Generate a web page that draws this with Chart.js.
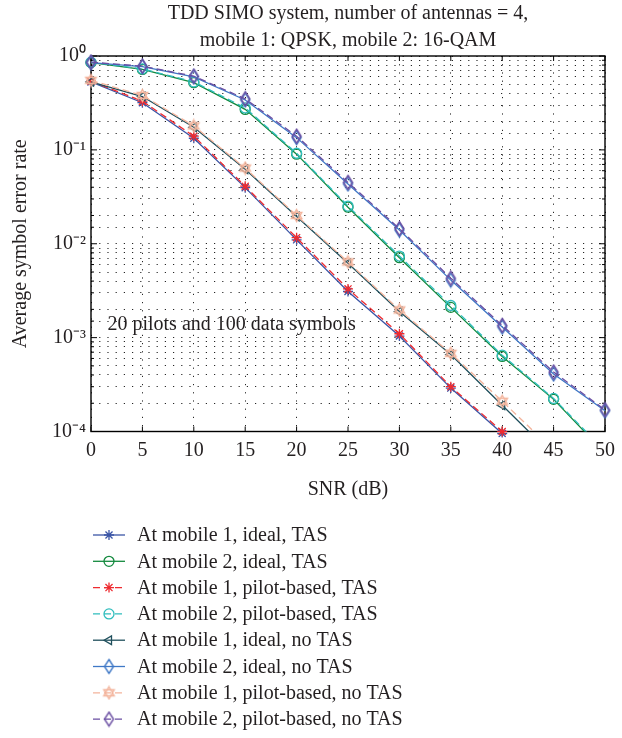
<!DOCTYPE html>
<html lang="en">
<head>
  <meta charset="UTF-8">
  <title>TDD SIMO symbol error rate</title>
  <script src="https://cdn.jsdelivr.net/npm/chart.js@4"></script>
  <style>
    html, body { margin: 0; padding: 0; background: #fff; }
    #wrap { width: 622px; height: 738px; }
  </style>
</head>
<body>
  <div id="wrap"><canvas id="ser-chart"></canvas></div>

  <script>
    // SNR in dB
    const snr = [0, 5, 10, 15, 20, 25, 30, 35, 40, 45, 50];

    // average symbol error rate
    const m1IdealTas   = [0.53, 0.318, 0.133, 0.0396, 0.0110, 0.0031, 0.00104, 0.00029, 0.000095];
    const m2IdealTas   = [0.85, 0.72, 0.52, 0.27, 0.090, 0.0245, 0.0071, 0.0021, 0.00063, 0.00022, 0.000059];
    const m1PilotTas   = [0.54, 0.33, 0.14, 0.041, 0.0116, 0.0033, 0.00110, 0.00030, 0.00010];
    const m2PilotTas   = [0.86, 0.73, 0.53, 0.28, 0.092, 0.0252, 0.0074, 0.0022, 0.00065, 0.000225, 0.000062];
    const m1IdealNoTas = [0.53, 0.37, 0.174, 0.062, 0.0195, 0.0062, 0.0019, 0.00066, 0.00019, 0.000055];
    const m2IdealNoTas = [0.85, 0.77, 0.60, 0.34, 0.135, 0.0434, 0.0140, 0.0041, 0.00130, 0.00041, 0.000166];
    const m1PilotNoTas = [0.55, 0.38, 0.18, 0.064, 0.0200, 0.0064, 0.00197, 0.00068, 0.00021, 0.000063];
    const m2PilotNoTas = [0.86, 0.78, 0.61, 0.35, 0.140, 0.0450, 0.0145, 0.0043, 0.00135, 0.00043, 0.00017];

    const seriesNames = [
      'At mobile 1, ideal, TAS',
      'At mobile 2, ideal, TAS',
      'At mobile 1, pilot-based, TAS',
      'At mobile 2, pilot-based, TAS',
      'At mobile 1, ideal, no TAS',
      'At mobile 2, ideal, no TAS',
      'At mobile 1, pilot-based, no TAS',
      'At mobile 2, pilot-based, no TAS'
    ];

    const titleLines = ['TDD SIMO system, number of antennas = 4,', 'mobile 1: QPSK, mobile 2: 16-QAM'];
    const noteText = '20 pilots and 100 data symbols';

    const FONT = "'Liberation Serif', 'Times New Roman', serif";
    const FS = 20;
    const INK = '#231f20';

    // little marker images for the shapes chart.js does not have
    function makeDiamond(color) {
      const c = document.createElement('canvas');
      c.width = 13; c.height = 17;
      const g = c.getContext('2d');
      g.strokeStyle = color; g.lineWidth = 1.4;
      g.beginPath();
      g.moveTo(6.5, 1.5); g.lineTo(11, 8.5); g.lineTo(6.5, 15.5); g.lineTo(2, 8.5); g.closePath();
      g.stroke();
      return c;
    }
    function makeHexagram(color) {
      const c = document.createElement('canvas');
      c.width = 15; c.height = 15;
      const g = c.getContext('2d');
      g.strokeStyle = color; g.lineWidth = 1.4;
      const r = 6, cx = 7.5, cy = 7.5;
      [-90, 90].forEach(start => {
        g.beginPath();
        for (let k = 0; k < 3; k++) {
          const a = (start + k * 120) * Math.PI / 180;
          const px = cx + r * Math.cos(a), py = cy + r * Math.sin(a);
          if (k === 0) g.moveTo(px, py); else g.lineTo(px, py);
        }
        g.closePath();
        g.stroke();
      });
      return c;
    }

    function pts(vals) {
      return vals.map((v, i) => ({ x: snr[i], y: v }));
    }

    function series(i, vals, color, style, extra) {
      return Object.assign({
        label: seriesNames[i],
        data: pts(vals),
        borderColor: color,
        backgroundColor: color,
        borderWidth: 1.3,
        pointStyle: style,
        pointRadius: 5,
        pointHoverRadius: 5,
        pointBorderColor: color,
        pointBackgroundColor: 'rgba(0,0,0,0)',
        pointBorderWidth: 1.3,
        tension: 0,
        order: 8 - i, // later series on top, like the original
        clip: { left: 8, right: 8, top: 8, bottom: 0 }
      }, extra || {});
    }

    const datasets = [
      series(0, m1IdealTas, '#3b55a6', 'star', { clip: { left: 8, right: 8, top: 8, bottom: 6 } }),
      series(1, m2IdealTas, '#13893e', 'circle'),
      series(2, m1PilotTas, '#ee2b30', 'star', { borderDash: [7, 4], clip: { left: 8, right: 8, top: 8, bottom: 6 } }),
      series(3, m2PilotTas, '#2fbdbd', 'circle', { borderDash: [7, 4] }),
      series(4, m1IdealNoTas, '#1f4f5c', 'triangle', { pointRotation: 270 }),
      series(5, m2IdealNoTas, '#3f78c6', makeDiamond('#3f78c6')),
      series(6, m1PilotNoTas, '#f3b49c', makeHexagram('#f3b49c'), { borderDash: [7, 4] }),
      series(7, m2PilotNoTas, '#6a4ea2', makeDiamond('#6a4ea2'), { borderDash: [7, 4] })
    ];

    const SUP = { '0': '\u2070', '1': '\u00b9', '2': '\u00b2', '3': '\u00b3', '4': '\u2074', '-': '\u207b' };
    function sup(n) {
      return String(n).split('').map(ch => SUP[ch] || ch).join('');
    }

    // box, inward ticks, note text and the stacked legend
    const extrasPlugin = {
      id: 'extras',
      beforeDatasetsDraw(chart) {
        const { ctx, chartArea: a, scales: { x, y } } = chart;
        ctx.save();
        ctx.strokeStyle = '#000';
        ctx.lineWidth = 1;
        ctx.beginPath();
        x.ticks.forEach(t => {
          const px = x.getPixelForValue(t.value);
          ctx.moveTo(px, a.bottom); ctx.lineTo(px, a.bottom - 5);
          ctx.moveTo(px, a.top); ctx.lineTo(px, a.top + 5);
        });
        y.ticks.forEach(t => {
          const py = y.getPixelForValue(t.value);
          const len = t.label ? 6 : 3;
          ctx.moveTo(a.left, py); ctx.lineTo(a.left + len, py);
          ctx.moveTo(a.right, py); ctx.lineTo(a.right - len, py);
        });
        ctx.stroke();
        ctx.lineWidth = 1.4;
        ctx.strokeRect(a.left, a.top, a.right - a.left, a.bottom - a.top);
        ctx.restore();
      },
      afterDraw(chart) {
        const { ctx, scales: { x, y } } = chart;
        ctx.save();
        ctx.font = FS + 'px ' + FONT;
        ctx.fillStyle = INK;
        ctx.textBaseline = 'middle';
        ctx.textAlign = 'left';
        ctx.fillText(noteText, x.getPixelForValue(1.6), y.getPixelForValue(1.36e-3));

        // legend, one entry per row
        chart.data.datasets.forEach((ds, i) => {
          const rowY = 535 + i * 26.3;
          ctx.save();
          ctx.strokeStyle = ds.borderColor;
          ctx.lineWidth = ds.borderWidth;
          ctx.setLineDash(ds.borderDash || []);
          ctx.beginPath();
          ctx.moveTo(93, rowY); ctx.lineTo(125, rowY);
          ctx.stroke();
          ctx.setLineDash([]);
          ctx.fillStyle = 'rgba(0,0,0,0)';
          ctx.lineWidth = ds.pointBorderWidth;
          Chart.helpers.drawPoint(ctx, {
            pointStyle: ds.pointStyle,
            rotation: ds.pointRotation || 0,
            radius: ds.pointRadius,
            borderWidth: ds.pointBorderWidth
          }, 109, rowY);
          ctx.restore();
          ctx.fillStyle = INK;
          ctx.fillText(ds.label, 137, rowY + 1);
        });
        ctx.restore();
      }
    };

    const ctx = document.getElementById('ser-chart').getContext('2d');

    new Chart(ctx, {
      type: 'line',
      data: { datasets: datasets },
      options: {
        responsive: true,
        maintainAspectRatio: false,
        animation: false,
        events: [],
        layout: { padding: { top: 0, right: 11, bottom: 236.5, left: 0 } },
        scales: {
          x: {
            type: 'linear',
            min: 0,
            max: 50,
            ticks: {
              stepSize: 5,
              color: INK,
              font: { family: FONT, size: FS },
              padding: 7,
              maxRotation: 0
            },
            grid: { color: 'rgba(0,0,0,0.85)', lineWidth: 1, drawTicks: false },
            border: { display: false, dash: [1.2, 7] },
            title: {
              display: true,
              text: 'SNR (dB)',
              color: INK,
              font: { family: FONT, size: FS },
              padding: { top: 9, bottom: 0 }
            },
            afterFit: s => { s.height = 70; }
          },
          y: {
            type: 'logarithmic',
            min: 1e-4,
            max: 1,
            ticks: {
              autoSkip: false,
              color: INK,
              font: { family: FONT, size: FS },
              padding: 5,
              callback: v => {
                const e = Math.log10(v);
                return Math.abs(e - Math.round(e)) < 1e-6 ? '10' + sup(Math.round(e)) : '';
              }
            },
            grid: { color: 'rgba(0,0,0,0.85)', lineWidth: 1, drawTicks: false },
            border: { display: false, dash: [1.2, 7] },
            title: {
              display: true,
              text: 'Average symbol error rate',
              color: INK,
              font: { family: FONT, size: FS },
              padding: { top: 9, bottom: 0 }
            },
            afterFit: s => { s.width = 91; }
          }
        },
        plugins: {
          legend: { display: false },
          tooltip: { enabled: false },
          title: {
            display: true,
            fullSize: false,
            text: titleLines,
            color: INK,
            font: { family: FONT, size: FS, weight: 'normal', lineHeight: 1.35 },
            padding: { top: 0, bottom: 2 }
          }
        }
      },
      plugins: [extrasPlugin]
    });
  </script>
</body>
</html>
